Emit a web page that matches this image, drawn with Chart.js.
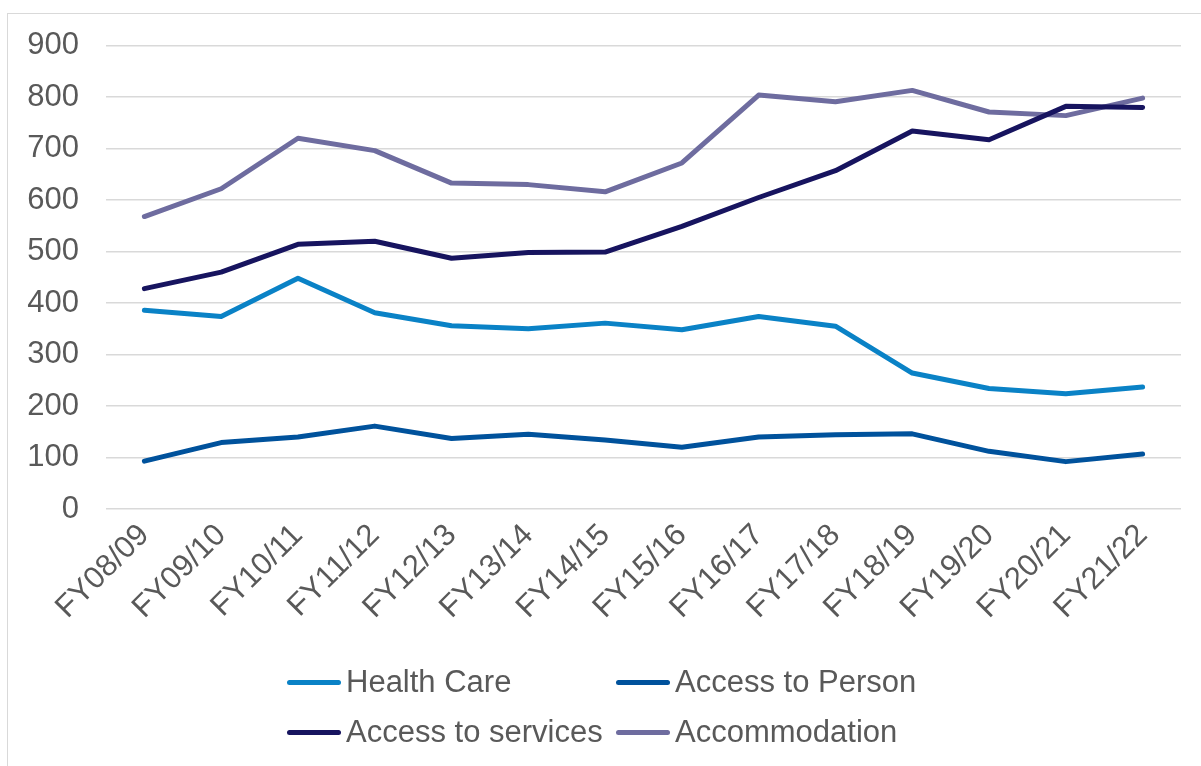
<!DOCTYPE html>
<html lang="en">
<head>
  <meta charset="UTF-8">
  <title>Cases by category</title>
  <style>
    body {
      margin: 0;
      background: #fff;
      font-family: "Liberation Sans", Arial, sans-serif;
    }
    #wrap {
      position: relative;
      width: 1201px;
      height: 766px;
      overflow: hidden;
    }
    #frame {
      position: absolute;
      left: 7px;
      top: 13px;
      width: 1300px;
      height: 900px;
      border-left: 1px solid #d9d9d9;
      border-top: 1px solid #d9d9d9;
    }
    #legend {
      position: absolute;
      left: 287px;
      top: 664px;
      display: grid;
      grid-template-columns: 329px auto;
      row-gap: 14px;
      font-size: 31px;
      color: #595959;
    }
    .item {
      display: flex;
      align-items: center;
      height: 36px;
      white-space: nowrap;
    }
    .swatch {
      width: 54px;
      height: 5px;
      border-radius: 3px;
      margin-right: 5px;
    }
  </style>
  <script src="https://cdn.jsdelivr.net/npm/chart.js"></script>
</head>
<body>
  <div id="wrap">
    <div id="frame"></div>
    <canvas id="chart" width="1201" height="766"></canvas>
    <div id="legend"></div>
  </div>

  <script>
    const years = ["FY08/09", "FY09/10", "FY10/11", "FY11/12", "FY12/13", "FY13/14", "FY14/15",
                   "FY15/16", "FY16/17", "FY17/18", "FY18/19", "FY19/20", "FY20/21", "FY21/22"];

    const healthCare       = [386, 374, 448, 381, 356, 350, 361, 348, 374, 355, 264, 234, 224, 237];
    const accessToPerson   = [93, 129, 140, 161, 137, 145, 134, 120, 140, 144, 146, 112, 92, 107];
    const accessToServices = [428, 460, 514, 520, 487, 498, 499, 549, 605, 657, 734, 717, 782, 780];
    const accommodation    = [568, 622, 720, 696, 633, 630, 616, 672, 804, 791, 813, 771, 764, 798];

    const series = [
      { label: "Health Care", data: healthCare, color: "#0a82c6" },
      { label: "Access to Person", data: accessToPerson, color: "#00529c" },
      { label: "Access to services", data: accessToServices, color: "#17145f" },
      { label: "Accommodation", data: accommodation, color: "#6e6c9f" }
    ];

    const font = { family: '"Liberation Sans", Arial, sans-serif', size: 31 };
    const textColor = "#595959";

    new Chart(document.getElementById("chart"), {
      type: "line",
      data: {
        labels: years,
        datasets: series.map(s => ({
          label: s.label,
          data: s.data,
          borderColor: s.color,
          backgroundColor: s.color,
          borderWidth: 5,
          pointRadius: 0,
          tension: 0,
          borderCapStyle: "round",
          borderJoinStyle: "round"
        }))
      },
      options: {
        responsive: false,
        animation: false,
        layout: { padding: { top: 44, right: 20, left: 0, bottom: 0 } },
        plugins: {
          legend: { display: false },
          tooltip: { enabled: false }
        },
        scales: {
          x: {
            offset: true,
            grid: { display: false, drawTicks: false },
            border: { display: false },
            ticks: {
              font: font,
              color: textColor,
              minRotation: 45,
              maxRotation: 45,
              padding: 8,
              autoSkip: false
            },
            afterFit: s => { s.height = 257; }
          },
          y: {
            min: 0,
            max: 900,
            grid: { color: "#d9d9d9", lineWidth: 1.5, drawTicks: false },
            border: { display: false },
            ticks: {
              stepSize: 100,
              font: font,
              color: textColor,
              padding: 27
            },
            afterFit: s => { s.width = 106; }
          }
        }
      }
    });

    // legend laid out as a two-column grid
    const legendEl = document.getElementById("legend");
    series.forEach(s => {
      const item = document.createElement("div");
      item.className = "item";
      item.innerHTML = `<span class="swatch" style="background:${s.color}"></span>${s.label}`;
      legendEl.appendChild(item);
    });
  </script>
</body>
</html>
